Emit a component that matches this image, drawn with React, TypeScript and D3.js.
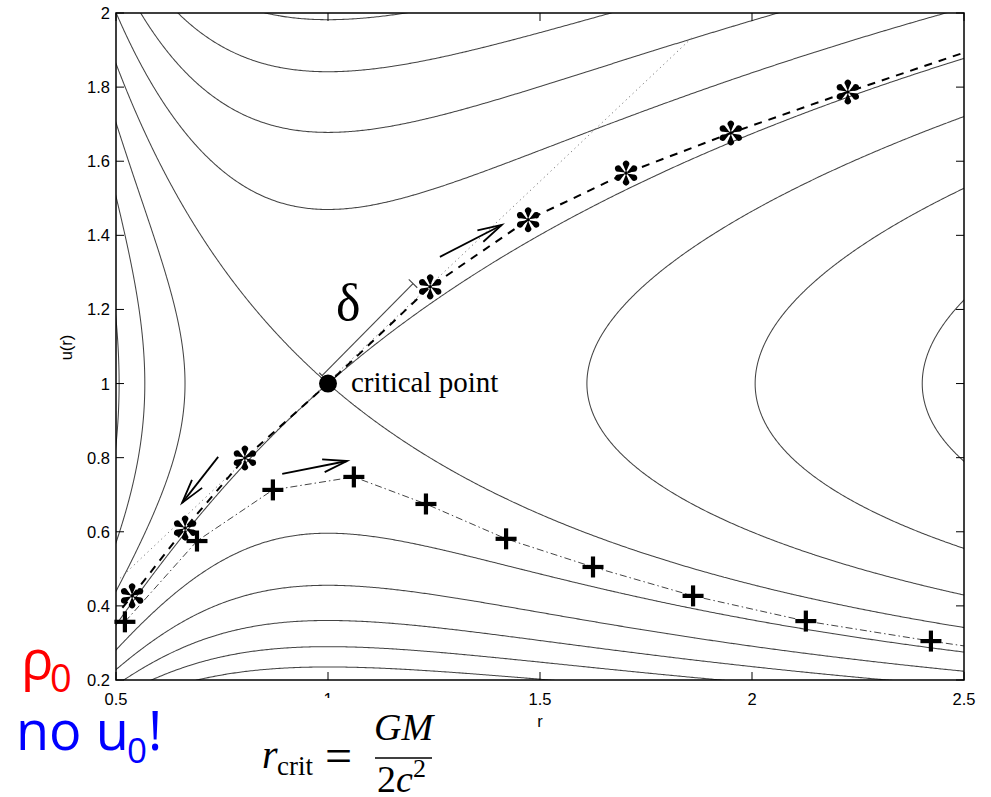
import React, { useMemo } from "react";
import * as d3 from "d3";

const W = 991;
const H = 797;

// axes
const X_DOMAIN = [0.5, 2.5];
const Y_DOMAIN = [0.2, 2];
const X_TICKS = [0.5, 1, 1.5, 2, 2.5];
const X_TICK_LABELS = ["0.5", "1", "1.5", "2", "2.5"];
const Y_TICKS = [0.2, 0.4, 0.6, 0.8, 1, 1.2, 1.4, 1.6, 1.8, 2];
const Y_TICK_LABELS = ["0.2", "0.4", "0.6", "0.8", "1", "1.2", "1.4", "1.6", "1.8", "2"];
const X_LABEL = "r";
const Y_LABEL = "u(r)";

// contour levels of u^2 - 2 ln u - 4 ln r - 4/r
const CONTOUR_LEVELS = [-4.17, -3.78, -3.39, -3.0, -2.61, -2.22, -1.83, -1.44, -1.05, -0.66];

// asterisk series (dashed)
const STAR_R = [0.538, 0.663, 0.804, 1.241, 1.472, 1.703, 1.95, 2.226];
const STAR_U = [0.427, 0.61, 0.799, 1.261, 1.442, 1.568, 1.676, 1.787];
const DASHED_R = [0.515, 0.538, 0.663, 0.804, 1.0, 1.241, 1.472, 1.703, 1.95, 2.226, 2.5];
const DASHED_U = [0.395, 0.427, 0.61, 0.799, 1.0, 1.261, 1.442, 1.568, 1.676, 1.787, 1.893];

// plus series (dash-dot)
const PLUS_R = [0.521, 0.691, 0.87, 1.061, 1.231, 1.42, 1.625, 1.861, 2.127, 2.422];
const PLUS_U = [0.357, 0.575, 0.713, 0.748, 0.675, 0.581, 0.505, 0.427, 0.359, 0.305];
const DASHDOT_R = [0.521, 0.691, 0.87, 1.061, 1.231, 1.42, 1.625, 1.861, 2.127, 2.422, 2.5];
const DASHDOT_U = [0.357, 0.575, 0.713, 0.748, 0.675, 0.581, 0.505, 0.427, 0.359, 0.305, 0.292];

// dotted tangent line
const TANGENT_R = [0.51, 1.86];
const TANGENT_U = [0.475, 1.935];

// critical point
const CRIT_R = 1;
const CRIT_U = 1;

// arrows (tail -> head)
const ARROW_TAIL_R = [1.264, 0.741, 0.892];
const ARROW_TAIL_U = [1.342, 0.802, 0.756];
const ARROW_HEAD_R = [1.41, 0.656, 1.045];
const ARROW_HEAD_U = [1.428, 0.678, 0.791];

// delta dimension line
const DELTA_R = [0.986, 1.2005];
const DELTA_U = [1.0216, 1.2699];

const PLOT = { left: 116, right: 964, top: 13, bottom: 680 };

function Star({ x, y }: { x: number; y: number }) {
  const petal = "M0,-1 L-2.5,-7.2 A3.2,3.2 0 1,1 2.5,-7.2 Z";
  return (
    <g transform={`translate(${x},${y})`}>
      {[0, 60, 120, 180, 240, 300].map((a) => (
        <path key={a} d={petal} transform={`rotate(${a})`} fill="#000" />
      ))}
      <circle r={1.8} fill="#000" />
    </g>
  );
}

function Plus({ x, y }: { x: number; y: number }) {
  const s = 10.5;
  return (
    <g stroke="#000" strokeWidth={4.2}>
      <line x1={x - s} x2={x + s} y1={y} y2={y} />
      <line x1={x} x2={x} y1={y - s} y2={y + s} />
    </g>
  );
}

export default function App() {
  const xs = d3.scaleLinear().domain(X_DOMAIN).range([PLOT.left, PLOT.right]);
  const ys = d3.scaleLinear().domain(Y_DOMAIN).range([PLOT.bottom, PLOT.top]);

  const contourPaths = useMemo(() => {
    const nx = 560;
    const ny = 500;
    const r0 = 0.45, r1 = 2.55, u0 = 0.15, u1 = 2.05;
    const dr = (r1 - r0) / (nx - 1);
    const du = (u1 - u0) / (ny - 1);
    const values = new Float64Array(nx * ny);
    for (let j = 0; j < ny; j++) {
      const u = u0 + j * du;
      for (let i = 0; i < nx; i++) {
        const r = r0 + i * dr;
        values[i + j * nx] = u * u - 2 * Math.log(u) - 4 * Math.log(r) - 4 / r;
      }
    }
    const cs = d3.contours().size([nx, ny]).thresholds(CONTOUR_LEVELS)(Array.from(values));
    const proj = d3.geoTransform({
      point(x: number, y: number) {
        (this as any).stream.point(xs(r0 + (x - 0.5) * dr), ys(u0 + (y - 0.5) * du));
      },
    });
    const path = d3.geoPath(proj as any);
    return cs.map((c) => path(c as any) || "");
  }, []);

  const line = d3
    .line<[number, number]>()
    .x((d) => xs(d[0]))
    .y((d) => ys(d[1]));

  const dashedPts = DASHED_R.map((r, i) => [r, DASHED_U[i]] as [number, number]);
  const dashdotPts = DASHDOT_R.map((r, i) => [r, DASHDOT_U[i]] as [number, number]);
  const tangentPts = TANGENT_R.map((r, i) => [r, TANGENT_U[i]] as [number, number]);

  const arrows = ARROW_TAIL_R.map((r, i) => {
    const x1 = xs(r), y1 = ys(ARROW_TAIL_U[i]);
    const x2 = xs(ARROW_HEAD_R[i]), y2 = ys(ARROW_HEAD_U[i]);
    const ang = Math.atan2(y1 - y2, x1 - x2);
    const L = 25, spread = (15 * Math.PI) / 180;
    const b1 = [x2 + L * Math.cos(ang + spread), y2 + L * Math.sin(ang + spread)];
    const b2 = [x2 + L * Math.cos(ang - spread), y2 + L * Math.sin(ang - spread)];
    return { x1, y1, x2, y2, b1, b2 };
  });

  // delta line
  const dx1 = xs(DELTA_R[0]), dy1 = ys(DELTA_U[0]);
  const dx2 = xs(DELTA_R[1]), dy2 = ys(DELTA_U[1]);
  const dl = Math.hypot(dx2 - dx1, dy2 - dy1);
  const px = -(dy2 - dy1) / dl, py = (dx2 - dx1) / dl;

  const tickLen = 8;
  const axisFont = "'Liberation Sans', Arial, Helvetica, sans-serif";
  const serif = "'Liberation Serif', 'Times New Roman', serif";
  const sans = "'Open Sans', 'Noto Sans', sans-serif";

  return (
    <svg
      width={W}
      height={H}
      viewBox={`0 0 ${W} ${H}`}
      style={{ position: "absolute", left: 0, top: 0, background: "#fff" }}
    >
      <defs>
        <clipPath id="plotclip">
          <rect x={PLOT.left} y={PLOT.top} width={PLOT.right - PLOT.left} height={PLOT.bottom - PLOT.top} />
        </clipPath>
        <clipPath id="oneclip">
          <rect x={300} y={680} width={60} height={18} />
        </clipPath>
      </defs>
      <rect x={0} y={0} width={W} height={H} fill="#fff" />

      <g clipPath="url(#plotclip)">
        {contourPaths.map((d, i) => (
          <path key={i} d={d} fill="none" stroke="#444" strokeWidth={1.05} />
        ))}
        {/* dotted tangent */}
        <path d={line(tangentPts) || ""} fill="none" stroke="#777" strokeWidth={1} strokeDasharray="1.2,3.5" />
        {/* dash-dot plus line */}
        <path d={line(dashdotPts) || ""} fill="none" stroke="#444" strokeWidth={1} strokeDasharray="7,3,1.5,3" />
        {/* dashed star line */}
        <path d={line(dashedPts) || ""} fill="none" stroke="#000" strokeWidth={2} strokeDasharray="8,7" />
      </g>

      {/* delta line */}
      <g stroke="#444" strokeWidth={1.1}>
        <line x1={dx1} y1={dy1} x2={dx2} y2={dy2} />
        <line x1={dx2 - px * 6} y1={dy2 - py * 6} x2={dx2 + px * 6} y2={dy2 + py * 6} />
        <line x1={dx1 - px * 4} y1={dy1 - py * 4} x2={dx1 + px * 4} y2={dy1 + py * 4} />
      </g>

      {/* arrows */}
      <g stroke="#000" strokeWidth={1.8} fill="none">
        {arrows.map((a, i) => (
          <g key={i}>
            <line x1={a.x1} y1={a.y1} x2={a.x2} y2={a.y2} />
            <polyline points={`${a.b1[0]},${a.b1[1]} ${a.x2},${a.y2} ${a.b2[0]},${a.b2[1]}`} />
          </g>
        ))}
      </g>

      {/* markers */}
      {STAR_R.map((r, i) => (
        <Star key={"s" + i} x={xs(r)} y={ys(STAR_U[i])} />
      ))}
      {PLUS_R.map((r, i) => (
        <Plus key={"p" + i} x={xs(r)} y={ys(PLUS_U[i])} />
      ))}

      {/* critical point */}
      <circle cx={xs(CRIT_R)} cy={ys(CRIT_U)} r={9} fill="#000" />
      <text x={351} y={392} fontFamily={serif} fontSize={29} fill="#000">
        critical point
      </text>
      <text x={336} y={320} fontFamily={serif} fontSize={52} fill="#000">
        δ
      </text>

      {/* frame */}
      <rect
        x={PLOT.left}
        y={PLOT.top}
        width={PLOT.right - PLOT.left}
        height={PLOT.bottom - PLOT.top}
        fill="none"
        stroke="#000"
        strokeWidth={1.5}
      />
      {/* ticks */}
      <g stroke="#000" strokeWidth={1}>
        {X_TICKS.map((t, i) => (
          <g key={"xt" + i}>
            <line x1={xs(t)} x2={xs(t)} y1={PLOT.bottom} y2={PLOT.bottom - tickLen} />
            <line x1={xs(t)} x2={xs(t)} y1={PLOT.top} y2={PLOT.top + tickLen} />
          </g>
        ))}
        {Y_TICKS.map((t, i) => (
          <g key={"yt" + i}>
            <line x1={PLOT.left} x2={PLOT.left + tickLen} y1={ys(t)} y2={ys(t)} />
            <line x1={PLOT.right} x2={PLOT.right - tickLen} y1={ys(t)} y2={ys(t)} />
          </g>
        ))}
      </g>
      <g fontFamily={axisFont} fontSize={16.5} fill="#000">
        {X_TICKS.map((t, i) => (
          <text
            key={"xl" + i}
            x={xs(t)}
            y={705}
            textAnchor="middle"
            clipPath={X_TICK_LABELS[i] === "1" ? "url(#oneclip)" : undefined}
          >
            {X_TICK_LABELS[i]}
          </text>
        ))}
        {Y_TICKS.map((t, i) => (
          <text key={"yl" + i} x={110} y={ys(t)} textAnchor="end" dominantBaseline="central">
            {Y_TICK_LABELS[i]}
          </text>
        ))}
        <text x={xs(1.5)} y={727} textAnchor="middle">
          {X_LABEL}
        </text>
        <text transform={`translate(72,${(PLOT.top + PLOT.bottom) / 2 + 1}) rotate(-90)`} textAnchor="middle">
          {Y_LABEL}
        </text>
      </g>

      {/* red / blue annotations */}
      <text x={21} y={679} fontFamily={sans} fontSize={54} fill="#ff0000">
        ρ
      </text>
      <text x={50} y={692} fontFamily={sans} fontSize={38} fill="#ff0000">
        0
      </text>
      <text x={16} y={750} fontFamily={sans} fontSize={54} fill="#0000ff">
        no u
      </text>
      <text x={127} y={763} fontFamily={sans} fontSize={35} fill="#0000ff">
        0
      </text>
      <text x={148} y={750} fontFamily={sans} fontSize={54} fill="#0000ff">
        !
      </text>

      {/* formula */}
      <g fontFamily={serif} fill="#000">
        <text x={262} y={768} fontSize={40} fontStyle="italic">
          r
        </text>
        <text x={277} y={775} fontSize={27}>
          crit
        </text>
        <text x={325} y={772} fontSize={48}>
          =
        </text>
        <text x={374} y={740} fontSize={38} fontStyle="italic">
          GM
        </text>
        <line x1={375} x2={432} y1={758} y2={758} stroke="#000" strokeWidth={1.6} />
        <text x={377} y={792} fontSize={38}>
          2<tspan fontStyle="italic">c</tspan>
        </text>
        <text x={413} y={777} fontSize={26}>
          2
        </text>
      </g>
    </svg>
  );
}
